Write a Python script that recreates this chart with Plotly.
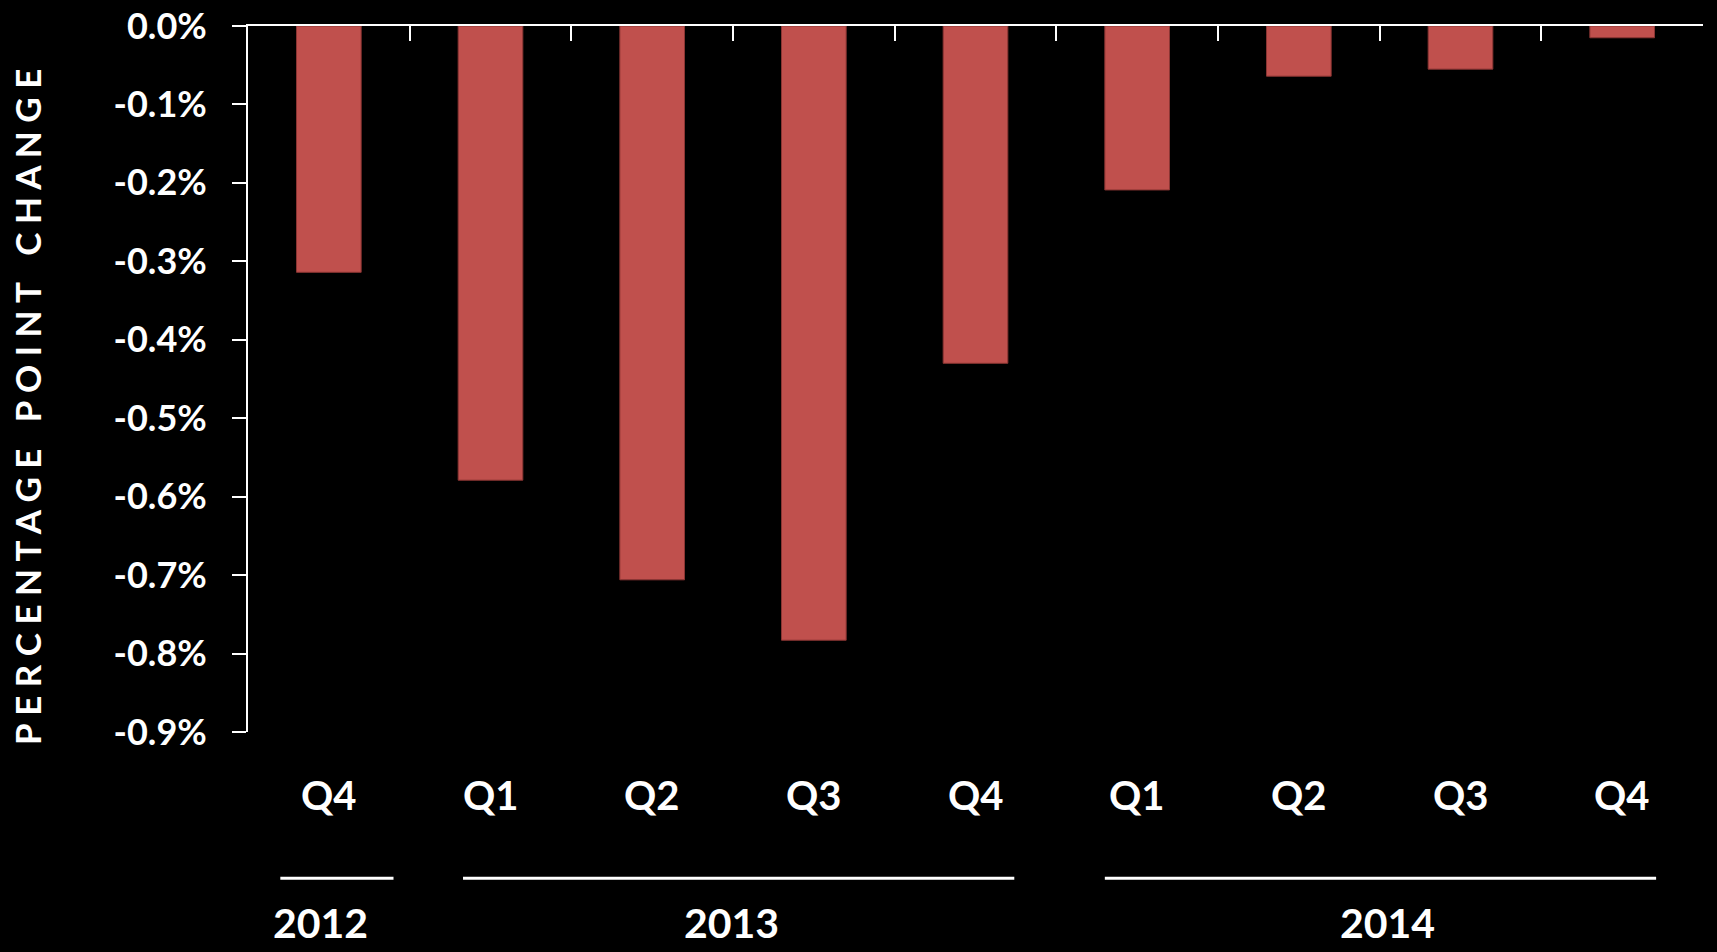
import plotly.graph_objects as go

# Quarterly percentage point change
quarters = ["Q4", "Q1", "Q2", "Q3", "Q4", "Q1", "Q2", "Q3", "Q4"]
years = ["2012", "2013", "2013", "2013", "2013", "2014", "2014", "2014", "2014"]
values = [-0.314, -0.579, -0.706, -0.783, -0.430, -0.209, -0.064, -0.055, -0.015]

# Year group brackets: label, bracket span and label centre (category index units)
year_labels = ["2012", "2013", "2014"]
bracket_start = [-0.30, 0.83, 4.80]
bracket_end = [0.40, 4.24, 8.21]
label_center = [-0.05, 2.49, 6.55]
y_ticks = [0.0, -0.1, -0.2, -0.3, -0.4, -0.5, -0.6, -0.7, -0.8, -0.9]

FONT = "Lato"
WHITE = "#ffffff"
BAR = "#C0504D"

x_idx = list(range(len(values)))
cat_keys = [f"{y} {q}" for y, q in zip(years, quarters)]

fig = go.Figure(
    go.Bar(
        x=cat_keys,
        y=values,
        width=0.4,
        marker=dict(color=BAR, line=dict(color="#8a3533", width=1)),
        hoverinfo="skip",
    )
)

fig.update_layout(
    width=1717,
    height=952,
    paper_bgcolor="black",
    plot_bgcolor="black",
    margin=dict(l=248, r=14, t=26, b=220, autoexpand=False),
    showlegend=False,
    font=dict(family=FONT, color=WHITE, weight="bold"),
)

fig.update_xaxes(
    type="category",
    side="top",
    automargin=False,
    showticklabels=False,
    showline=True,
    linecolor=WHITE,
    linewidth=2,
    ticks="inside",
    tickson="boundaries",
    ticklen=15,
    tickwidth=2,
    tickcolor=WHITE,
    showgrid=False,
    zeroline=False,
    range=[-0.5, len(values) - 0.5],
)

fig.update_yaxes(
    range=[-0.9, 0.0],
    automargin=False,
    tickvals=y_ticks,
    ticktext=[f"{v:.1f}%" for v in y_ticks],
    showline=True,
    linecolor=WHITE,
    linewidth=2,
    ticks="outside",
    ticklen=14,
    tickwidth=2,
    tickcolor=WHITE,
    ticklabelstandoff=18,
    tickfont=dict(family=FONT, size=36, color=WHITE, weight="bold"),
    showgrid=False,
    zeroline=False,
)

# Quarter labels under the plot
for i, q in zip(x_idx, quarters):
    fig.add_annotation(
        x=i, y=0, xref="x", yref="paper", yanchor="middle",
        yshift=-63, text=q, showarrow=False,
        font=dict(family=FONT, size=40, color=WHITE, weight="bold"),
    )

# Year brackets and labels
for label, x0, x1, xc in zip(year_labels, bracket_start, bracket_end, label_center):
    fig.add_shape(
        type="line", xref="x", yref="paper",
        x0=x0, x1=x1, y0=-0.207, y1=-0.207,
        line=dict(color=WHITE, width=3),
    )
    fig.add_annotation(
        x=xc, y=0, xref="x", yref="paper", yanchor="middle",
        yshift=-190, text=label, showarrow=False, borderpad=0,
        font=dict(family=FONT, size=41, color=WHITE, weight="bold"),
    )

# Spaced-out vertical axis title
title = "PERCENTAGE POINT CHANGE"
spaced = " ".join(title).replace("   ", "\u2003")
fig.add_annotation(
    x=0, y=0.5, xref="paper", yref="paper", xanchor="center", yanchor="middle",
    xshift=-221, yshift=-28, text=spaced, textangle=-90, showarrow=False,
    font=dict(family=FONT, size=35, color=WHITE, weight="bold"),
)

fig.write_html("out.html")
